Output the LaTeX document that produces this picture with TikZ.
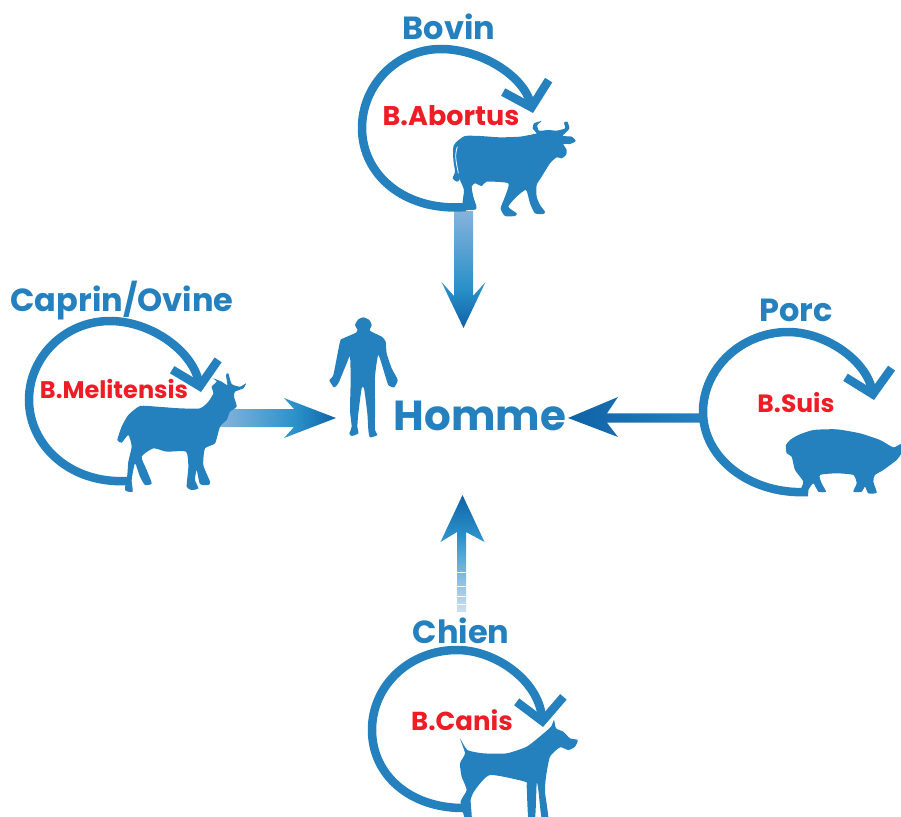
\documentclass[tikz,border=0pt]{standalone}
\usepackage{fontspec}
\setmainfont{Poppins}[BoldFont=* Bold]
\usepackage{xcolor}
\usetikzlibrary{arrows.meta,calc}
\definecolor{hostblue}{HTML}{2580BE}
\definecolor{germred}{HTML}{EE1C25}
\definecolor{flowlight}{HTML}{85B3DC}
\definecolor{flowpale}{HTML}{CFE0F0}
\definecolor{flowmid}{HTML}{2A90C8}
\definecolor{flowdark}{HTML}{0F62A6}
\pgfdeclarehorizontalshading{flowshade}{100bp}{color(0bp)=(flowlight); color(25bp)=(flowlight); color(58bp)=(flowmid); color(75bp)=(flowdark); color(100bp)=(flowdark)}
\pgfdeclarehorizontalshading{paleshade}{100bp}{color(0bp)=(flowpale); color(25bp)=(flowpale); color(58bp)=(flowmid); color(75bp)=(flowdark); color(100bp)=(flowdark)}
\tikzset{
  hostlabel/.style={text=hostblue, font=\bfseries\fontsize{32}{34}\selectfont, inner sep=0pt},
  germlabel/.style={text=germred, font=\bfseries\fontsize{#1}{29}\selectfont, inner sep=0pt},
  germlabel/.default=27,
  cycle/.style={draw=hostblue, line width=8.5pt, -{Straight Barb[length=22pt,width=47pt,line width=8.5pt]}},
  beast/.style={fill=hostblue, smooth cycle, tension=.35},
}
\begin{document}
\begin{tikzpicture}[x=1pt,y=-1pt]
  \useasboundingbox (0,0) rectangle (901,816);
  \coordinate (bovinout) at (463.5,211);
  \coordinate (hommetop) at (463.5,328);
  \coordinate (caprinout) at (220,418);
  \coordinate (hommeleft) at (336,418);
  \coordinate (porcout) at (700,418);
  \coordinate (hommeright) at (568,418);
  \coordinate (chienout) at (461.5,612);
  \coordinate (hommelow) at (462.5,495);
  % flows to man
  \shade[shading=flowshade, shading angle=-90]
    ($(bovinout)+(-9.5,0)$) -- ($(bovinout)+(9.5,0)$) -- ($(hommetop)+(9.5,-32)$) -- ($(hommetop)+(22,-46)$)
    -- (hommetop) -- ($(hommetop)+(-22,-46)$) -- ($(hommetop)+(-9.5,-32)$) -- cycle;
  \shade[shading=flowshade]
    ($(caprinout)+(0,-9)$) -- ($(hommeleft)+(-42,-9)$) -- ($(hommeleft)+(-52,-20)$) -- (hommeleft)
    -- ($(hommeleft)+(-52,20)$) -- ($(hommeleft)+(-42,9)$) -- ($(caprinout)+(0,9)$) -- cycle;
  \shade[left color=flowdark, middle color=hostblue, right color=hostblue]
    ($(porcout)+(0,-4.7)$) -- ($(hommeright)+(39,-4.7)$) -- ($(hommeright)+(50,-21)$) -- (hommeright)
    -- ($(hommeright)+(50,19)$) -- ($(hommeright)+(39,4.7)$) -- ($(porcout)+(0,4.7)$) -- cycle;
  \shade[shading=paleshade, shading angle=90]
    ($(chienout)+(-4.5,0)$) -- ($(chienout)+(4.5,0)$) -- ($(hommelow)+(3.5,37)$) -- ($(hommelow)+(22,47)$)
    -- (hommelow) -- ($(hommelow)+(-22,47)$) -- ($(hommelow)+(-5.5,37)$) -- cycle;
  \foreach \y in {572,586,596,604}
    \fill[white] (455,\y-.5) rectangle (468,\y+.5);
  % cycles
  \draw[cycle] (466,207) .. controls (405,212) and (362,175) .. (362,128) .. controls (362,85) and (397,49) .. (441,49) .. controls (480,49) and (523,75) .. (533,113);
  \draw[cycle] (127,481) .. controls (70,484) and (29,445) .. (29,400) .. controls (29,357) and (65,321) .. (110,321) .. controls (150,321) and (192,350) .. (201,392);
  \draw[cycle] (808,492) .. controls (750,495) and (703,458) .. (703,412) .. controls (703,368) and (742,332) .. (788,332) .. controls (825,332) and (866,360) .. (874,400);
  \draw[cycle] (463,808) .. controls (410,808) and (372,775) .. (372,730) .. controls (372,685) and (410,650) .. (457,650) .. controls (495,650) and (538,680) .. (543,727);
  % cow
  \begin{scope}[shift={(340,0)},scale=1/3]
    \fill[beast] plot coordinates {(350,425) (375,408) (420,408) (480,412) (540,410) (578,403) (590,400) (578,385) (582,370) (605,363) (592,375) (597,392) (625,390) (650,392) (675,385) (672,368) (682,365) (688,385) (675,400) (668,408) (695,410) (707,423) (690,432) (670,432) (680,450) (678,465) (665,475) (650,472) (630,490) (605,530) (590,555) (590,590) (600,615) (615,635) (610,642) (585,640) (570,610) (558,570) (530,590) (505,620) (530,640) (525,648) (495,648) (482,625) (495,590) (505,550) (440,545) (425,558) (405,550) (395,560) (400,590) (408,615) (408,628) (375,630) (368,605) (372,570) (360,540) (355,520) (358,540) (350,545) (338,535) (345,515) (340,480) (340,440)};
    \draw[white, line width=.8pt] (352,440) .. controls (342,470) and (350,490) .. (355,520);
  \end{scope}
  % goat
  \begin{scope}[shift={(0,280)},scale=1/3]
    \fill[beast] plot coordinates {(352,480) (365,440) (385,405) (420,378) (470,380) (540,385) (600,385) (625,365) (640,340) (635,320) (650,305) (640,295) (665,305) (682,315) (678,285) (685,280) (695,312) (720,320) (738,310) (730,325) (705,335) (702,350) (710,380) (690,395) (680,420) (660,440) (645,490) (615,505) (610,555) (630,605) (625,615) (600,612) (590,570) (585,600) (595,625) (575,630) (560,620) (565,560) (558,515) (500,515) (460,505) (425,530) (440,570) (455,610) (435,615) (420,590) (405,550) (395,600) (398,635) (375,630) (382,585) (385,545) (395,500) (385,465) (365,488)};
  \end{scope}
  % man
  \begin{scope}[shift={(320,300)},scale=1/3]
    \fill[beast] plot coordinates {(130,52) (148,60) (155,75) (150,92) (185,110) (197,125) (200,160) (215,205) (233,240) (222,262) (205,255) (195,225) (175,165) (165,230) (165,300) (165,350) (165,390) (172,405) (150,412) (145,390) (142,340) (132,265) (125,265) (115,340) (112,380) (115,400) (95,408) (88,400) (95,380) (90,330) (92,240) (90,170) (80,190) (55,250) (42,262) (28,240) (40,225) (60,125) (70,115) (108,98) (112,88) (105,75) (115,58)};
  \end{scope}
  % pig
  \begin{scope}[shift={(680,290)},scale=1/3]
    \fill[beast] plot coordinates {(330,450) (355,435) (400,420) (470,418) (540,430) (600,450) (640,472) (663,462) (668,480) (663,492) (650,510) (610,540) (585,555) (580,575) (590,608) (565,610) (555,590) (545,605) (520,605) (530,580) (520,555) (470,550) (420,555) (425,580) (438,605) (415,605) (400,580) (385,600) (385,608) (360,605) (370,575) (345,540) (335,500) (320,490) (318,465)};
  \end{scope}
  % dog
  \begin{scope}[shift={(350,490)},scale=1/3]
    \fill[beast] plot coordinates {(330,745) (352,780) (400,790) (470,790) (530,770) (575,735) (603,710) (612,690) (618,715) (640,725) (660,745) (683,750) (675,770) (655,780) (630,772) (600,800) (588,860) (585,905) (595,985) (575,985) (565,900) (560,880) (555,985) (535,985) (530,890) (525,875) (420,855) (375,900) (362,930) (365,985) (345,985) (332,935) (350,900) (335,860) (330,820) (345,790)};
  \end{scope}
  % labels
  \node[hostlabel] (bovin) at (449,27) {Bovin};
  \node[hostlabel] (caprin) at (122,301) {Caprin/Ovine};
  \node[hostlabel] (porc) at (796,310) {Porc};
  \node[hostlabel] (chien) at (461,631) {Chien};
  \node[germlabel] (abortus) at (451,116) {B.Abortus};
  \node[germlabel=24] (melitensis) at (114,389) {B.Melitensis};
  \node[germlabel=25] (suis) at (796,403) {B.Suis};
  \node[germlabel=26] (canis) at (462,720) {B.Canis};
  \node[hostlabel, font=\bfseries\fontsize{42}{44}\selectfont] (homme) at (480,416) {Homme};
\end{tikzpicture}
\end{document}
